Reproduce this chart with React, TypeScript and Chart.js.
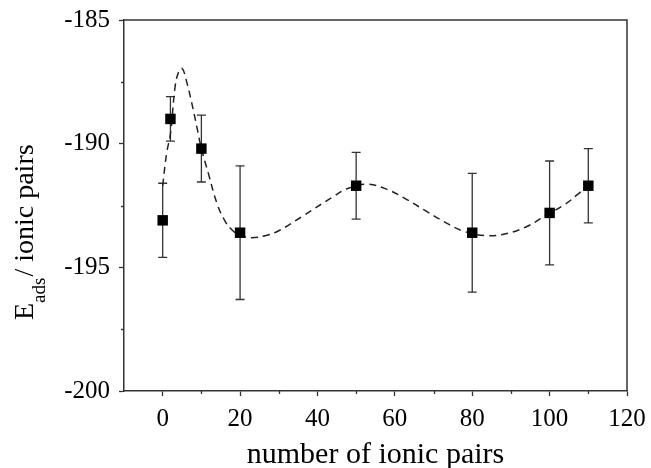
import React, { useEffect, useRef } from "react";
import { Chart, registerables } from "chart.js";

Chart.register(...registerables);

// measured data
const xValues = [0, 2, 10, 20, 50, 80, 100, 110];
const yValues = [-193.1, -189.0, -190.2, -193.6, -191.7, -193.6, -192.8, -191.7];
const yErrors = [1.5, 0.9, 1.35, 2.7, 1.35, 2.4, 2.1, 1.5];

// dashed fit curve
const fitX = [0, 1, 2, 3.2, 4, 5, 6.2, 7.5, 8.8, 10, 11.8, 14, 16, 18, 20, 23, 27, 30, 36, 44, 48, 53, 58, 63, 68, 73, 78, 84, 89, 94, 99, 104, 107, 110];
const fitY = [-191.7, -190.4, -189.6, -187.7, -187.15, -186.95, -187.5, -188.35, -189.3, -190.2, -191.2, -192.4, -193.1, -193.5, -193.7, -193.8, -193.7, -193.52, -192.95, -192.15, -191.8, -191.64, -191.85, -192.25, -192.72, -193.18, -193.55, -193.72, -193.63, -193.36, -192.9, -192.45, -192.08, -191.67];

const xMajorTicks = [0, 20, 40, 60, 80, 100, 120];
const xMinorTicks = [10, 30, 50, 70, 90, 110];
const yMajorTicks = [-200, -195, -190, -185];
const yMinorTicks = [-197.5, -192.5, -187.5];

const xTitle = "number of ionic pairs";
const yTitleMain = "E";
const yTitleSub = "ads";
const yTitleRest = "/ ionic pairs";

const FONT = "'Liberation Serif', 'Times New Roman', serif";
const AXIS_COLOR = "#333";

const decorPlugin = {
  id: "decor",
  beforeDatasetsDraw(chart: any) {
    const ctx = chart.ctx;
    const xs = chart.scales.x;
    const ys = chart.scales.y;
    ctx.save();
    ctx.strokeStyle = AXIS_COLOR;
    ctx.lineWidth = 1.3;
    xValues.forEach((xv, i) => {
      const px = xs.getPixelForValue(xv);
      const top = ys.getPixelForValue(yValues[i] + yErrors[i]);
      const bot = ys.getPixelForValue(yValues[i] - yErrors[i]);
      ctx.beginPath();
      ctx.moveTo(px, top);
      ctx.lineTo(px, bot);
      ctx.moveTo(px - 4.5, top);
      ctx.lineTo(px + 4.5, top);
      ctx.moveTo(px - 4.5, bot);
      ctx.lineTo(px + 4.5, bot);
      ctx.stroke();
    });
    ctx.restore();
  },
  afterDraw(chart: any) {
    const ctx = chart.ctx;
    const a = chart.chartArea;
    const xs = chart.scales.x;
    const ys = chart.scales.y;
    ctx.save();
    ctx.strokeStyle = AXIS_COLOR;
    ctx.lineWidth = 1.5;
    // top & right frame
    ctx.beginPath();
    ctx.moveTo(a.left, a.top);
    ctx.lineTo(a.right, a.top);
    ctx.lineTo(a.right, a.bottom);
    ctx.stroke();
    // minor ticks
    ctx.lineWidth = 1.3;
    ctx.beginPath();
    xMinorTicks.forEach((v) => {
      const px = Math.round(xs.getPixelForValue(v)) + 0.5;
      ctx.moveTo(px, a.bottom);
      ctx.lineTo(px, a.bottom + 3);
    });
    yMinorTicks.forEach((v) => {
      const py = Math.round(ys.getPixelForValue(v)) + 0.5;
      ctx.moveTo(a.left, py);
      ctx.lineTo(a.left - 3, py);
    });
    ctx.stroke();

    // x title
    ctx.fillStyle = "#000";
    ctx.font = `30px ${FONT}`;
    ctx.textAlign = "center";
    ctx.textBaseline = "alphabetic";
    ctx.fillText(xTitle, (a.left + a.right) / 2, 463);

    // y title, rotated with subscript
    ctx.translate(33, 320);
    ctx.rotate(-Math.PI / 2);
    ctx.textAlign = "left";
    ctx.font = `28px ${FONT}`;
    ctx.fillText(yTitleMain, 0, 0);
    const w1 = ctx.measureText(yTitleMain).width;
    ctx.font = `19px ${FONT}`;
    ctx.fillText(yTitleSub, w1, 12);
    const w2 = ctx.measureText(yTitleSub).width;
    ctx.font = `28px ${FONT}`;
    ctx.fillText(yTitleRest, w1 + w2 + 1, 0);
    ctx.restore();
  },
};

export default function App() {
  const canvasRef = useRef<HTMLCanvasElement | null>(null);

  useEffect(() => {
    document.body.style.margin = "0";
    const canvas = canvasRef.current;
    if (!canvas) return;

    const zeroPad = (scale: any) => {
      scale.paddingLeft = 0;
      scale.paddingRight = 0;
      scale.paddingTop = 0;
      scale.paddingBottom = 0;
    };

    const chart = new Chart(canvas, {
      type: "scatter",
      data: {
        datasets: [
          {
            label: "fit",
            data: fitX.map((x, i) => ({ x, y: fitY[i] })),
            showLine: true,
            borderColor: "#222",
            borderWidth: 1.5,
            borderDash: [7, 5],
            pointRadius: 0,
            tension: 0.4,
            fill: false,
            order: 2,
          } as any,
          {
            label: "data",
            data: xValues.map((x, i) => ({ x, y: yValues[i] })),
            showLine: false,
            pointStyle: "rect",
            pointRadius: 7.4,
            pointBackgroundColor: "#000",
            pointBorderWidth: 0,
            pointBorderColor: "#000",
            order: 1,
          } as any,
        ],
      },
      options: {
        responsive: false,
        animation: false,
        events: [],
        layout: { padding: { left: 0, top: 20, right: 24, bottom: 0 } },
        plugins: {
          legend: { display: false },
          tooltip: { enabled: false },
        },
        scales: {
          x: {
            type: "linear",
            min: -10,
            max: 120,
            afterBuildTicks: (scale: any) => {
              scale.ticks = xMajorTicks.map((v) => ({ value: v }));
            },
            afterFit: (scale: any) => {
              scale.height = 77;
              zeroPad(scale);
            },
            border: { color: AXIS_COLOR, width: 1.5 },
            grid: {
              drawOnChartArea: false,
              drawTicks: true,
              tickLength: 5,
              tickColor: AXIS_COLOR,
              tickWidth: 1.3,
            },
            ticks: {
              color: "#000",
              font: { family: FONT, size: 25 },
              padding: 8,
              maxRotation: 0,
              autoSkip: false,
              callback: (v: any) => String(v),
            },
          },
          y: {
            type: "linear",
            min: -200,
            max: -185,
            afterBuildTicks: (scale: any) => {
              scale.ticks = yMajorTicks.map((v) => ({ value: v }));
            },
            afterFit: (scale: any) => {
              scale.width = 124;
              zeroPad(scale);
            },
            border: { color: AXIS_COLOR, width: 1.5 },
            grid: {
              drawOnChartArea: false,
              drawTicks: true,
              tickLength: 5,
              tickColor: AXIS_COLOR,
              tickWidth: 1.3,
            },
            ticks: {
              color: "#000",
              font: { family: FONT, size: 25 },
              padding: 9,
              autoSkip: false,
              callback: (v: any) => String(v),
            },
          },
        },
      },
      plugins: [decorPlugin],
    });

    return () => chart.destroy();
  }, []);

  return (
    <div style={{ width: 651, height: 468, background: "#fff" }}>
      <canvas ref={canvasRef} width={651} height={468} style={{ display: "block" }} />
    </div>
  );
}
